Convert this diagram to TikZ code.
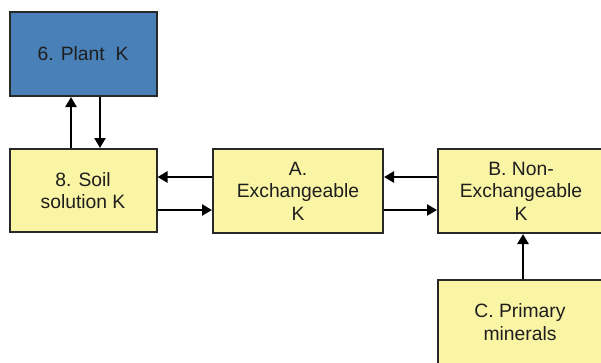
\documentclass[tikz,border=0pt]{standalone}
\usepackage{fontspec}
\setmainfont{Liberation Sans}
\usetikzlibrary{arrows.meta}
\definecolor{boxyellow}{RGB}{250,244,165}
\definecolor{boxblue}{RGB}{74,128,184}
\definecolor{edge}{RGB}{40,40,40}
\definecolor{txt}{RGB}{30,30,30}
\tikzset{
  kbox/.style={draw=edge, line width=2pt, fill=boxyellow, align=center, inner sep=0pt,
    font=\fontsize{19.3}{22.5}\selectfont, text=txt},
  arr/.style={line width=2.4pt, draw=black, -{Triangle[length=10pt,width=11pt]}}
}
\begin{document}
\begin{tikzpicture}[x=1pt,y=-1pt]
\clip (0,0) rectangle (601,362);
\useasboundingbox (0,0) rectangle (601,362);
\fill[white] (0,0) rectangle (601,362);
\node[kbox, fill=boxblue, minimum width=147pt, minimum height=84pt] (P) at (83,54) {6. Plant\ \ K};
\node[kbox, minimum width=147pt, minimum height=83pt] (S) at (83,190.5) {8. Soil\\solution K};
\node[kbox, minimum width=170pt, minimum height=84pt] (A) at (298,191) {A.\\Exchangeable\\K};
\node[kbox, minimum width=166pt, minimum height=84pt] (B) at (521,191) {B. Non-\\Exchangeable\\K};
\node[kbox, minimum width=166pt, minimum height=100pt, text depth=0pt] (C) at (521,330) {};
\node[font=\fontsize{19.3}{22.5}\selectfont, text=txt, align=center] (Ct) at (520,322) {C. Primary\\minerals};
\draw[arr] (S.north -| 71,0) -- (P.south -| 71,0);
\draw[arr] (P.south -| 100,0) -- (S.north -| 100,0);
\draw[arr] (A.west |- 0,177) -- (S.east |- 0,177);
\draw[arr] (S.east |- 0,210) -- (A.west |- 0,210);
\draw[arr] (B.west |- 0,177) -- (A.east |- 0,177);
\draw[arr] (A.east |- 0,210) -- (B.west |- 0,210);
\draw[arr] (C.north -| 523,0) -- (B.south -| 523,0);
\end{tikzpicture}
\end{document}
